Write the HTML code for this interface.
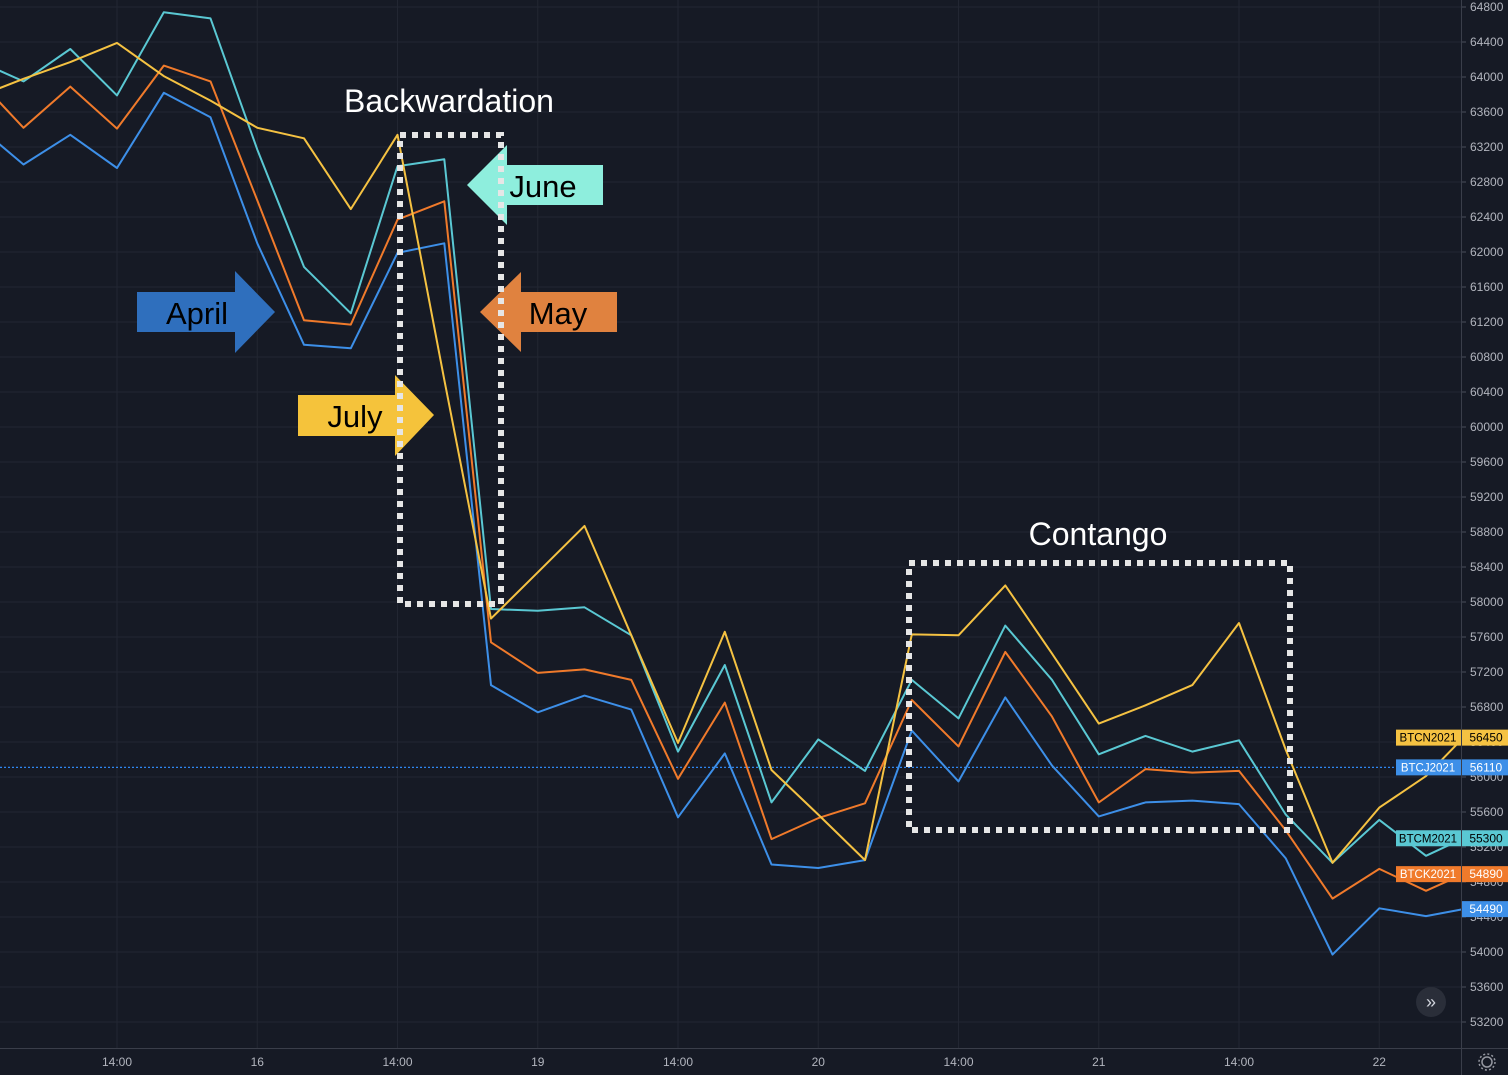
<!DOCTYPE html>
<html><head><meta charset="utf-8"><style>
html,body{margin:0;padding:0;background:#161a25;}
svg{display:block;font-family:"Liberation Sans",sans-serif;}
</style></head><body>
<svg id="chart" width="1508" height="1075" viewBox="0 0 1508 1075" xmlns="http://www.w3.org/2000/svg">
<rect x="0" y="0" width="1508" height="1075" fill="#161a25"/>
<g id="grid"></g>
<g id="series"></g>
<g id="annot">
  <g>
    <polygon points="603,165 507,165 507,145 467,185 507,225 507,205 603,205" fill="#8eeedd"/>
    <text x="543" y="197" font-size="31" fill="#000" text-anchor="middle">June</text>
  </g>
  <g>
    <polygon points="137,292 235,292 235,271 275,312 235,353 235,332 137,332" fill="#2f6fbd"/>
    <text x="197" y="324" font-size="31" fill="#000" text-anchor="middle">April</text>
  </g>
  <g>
    <polygon points="617,292 521,292 521,272 480,312 521,352 521,332 617,332" fill="#e0823f"/>
    <text x="558" y="324" font-size="31" fill="#000" text-anchor="middle">May</text>
  </g>
  <g>
    <polygon points="298,395 395,395 395,375 434,415 395,456 395,436 298,436" fill="#f5c33b"/>
    <text x="355" y="427" font-size="31" fill="#000" text-anchor="middle">July</text>
  </g>
  <rect x="400" y="135" width="101" height="469" fill="none" stroke="#e6e6e6" stroke-width="6" stroke-dasharray="6,6"/>
  <rect x="909" y="563" width="381" height="267" fill="none" stroke="#e6e6e6" stroke-width="6" stroke-dasharray="6,6"/>
  <text x="449" y="112" font-size="32" fill="#fff" text-anchor="middle">Backwardation</text>
  <text x="1098" y="545" font-size="32" fill="#fff" text-anchor="middle">Contango</text>
</g>
<g id="axes"></g>
<g id="tags"></g>
<g>
  <circle cx="1431" cy="1002" r="15" fill="#2a2e39"/>
  <text x="1431" y="1008" font-size="18" fill="#d1d4dc" text-anchor="middle">»</text>
</g>
<g>
  <circle cx="1487" cy="1062" r="5" fill="none" stroke="#9598a1" stroke-width="1.5"/>
  <circle cx="1487" cy="1062" r="8" fill="none" stroke="#9598a1" stroke-width="1.5" stroke-dasharray="2,2.2"/>
</g>
</svg>
<script>
const idx = [-1,0,1,2,3,4,5,6,7,8,9,10,11,12,13,14,15,16,17,18,19,20,21,22,23,24,25,26,27,28,29,30,30.8];
const april = [63450,63000,63340,62960,63820,63540,62100,60940,60900,61990,62100,57050,56740,56930,56770,55540,56270,55000,54960,55050,56530,55950,56910,56130,55550,55710,55730,55690,55070,53970,54500,54410,54490];
const may = [63990,63420,63890,63410,64130,63950,62590,61220,61170,62370,62580,57540,57190,57230,57110,55980,56850,55290,55530,55700,56880,56350,57430,56690,55710,56090,56050,56070,55390,54610,54950,54700,54890];
const june = [64190,63950,64320,63790,64740,64670,63170,61830,61300,62980,63060,57920,57900,57940,57620,56290,57280,55710,56430,56070,57110,56670,57730,57110,56260,56470,56290,56420,55570,55020,55510,55100,55300];
const july = [63770,63980,64170,64390,64010,63730,63420,63300,62490,63340,60540,57810,58340,58870,57620,56390,57660,56080,55570,55050,57630,57620,58190,57410,56610,56820,57050,57760,56310,55020,55650,56010,56450];
const yTicks = [64800,64400,64000,63600,63200,62800,62400,62000,61600,61200,60800,60400,60000,59600,59200,58800,58400,58000,57600,57200,56800,56400,56000,55600,55200,54800,54400,54000,53600,53200];
const xTickIdx = [2,5,8,11,14,17,20,23,26,29];
const xTickLabels = ['14:00','16','14:00','19','14:00','20','14:00','21','14:00','22'];
const tagNames = ['BTCN2021','BTCJ2021','BTCM2021','BTCK2021'];
const tagValues = [56450,56110,55300,54890];
const lastApril = 54490;

const NS='http://www.w3.org/2000/svg';
function X(i){return 23.5+46.75*i;}
function Y(v){return 7+(64800-v)*35/400;}
function mk(tag,attrs,parent){const e=document.createElementNS(NS,tag);for(const k in attrs)e.setAttribute(k,attrs[k]);parent.appendChild(e);return e;}
const grid=document.getElementById('grid'),series=document.getElementById('series'),axes=document.getElementById('axes'),tags=document.getElementById('tags');

yTicks.forEach(v=>{
  const l=mk('line',{x1:0,x2:1461,y1:Y(v),y2:Y(v),stroke:'#222632','stroke-width':1},grid);
  
  
  const t=mk('line',{x1:1461,x2:1466,y1:Y(v),y2:Y(v),stroke:'#4a4e5a'},axes);
  
  
  const tx=mk('text',{x:1470,y:Y(v)+4,'font-size':12,fill:'#b2b5be'},axes);
  tx.textContent=v;
  
  
});
xTickIdx.forEach((i,k)=>{
  const l=mk('line',{x1:X(i),x2:X(i),y1:0,y2:1048,stroke:'#222632','stroke-width':1},grid);
  
  
  const tx=mk('text',{x:X(i),y:1066,'font-size':12,fill:'#b2b5be','text-anchor':'middle'},axes);
  tx.textContent=xTickLabels[k];
  
  
});
const ax1=mk('line',{x1:1461.5,x2:1461.5,y1:0,y2:1075,stroke:'#3a3e4a'},axes);


const ax2=mk('line',{x1:0,x2:1508,y1:1048.5,y2:1048.5,stroke:'#3a3e4a'},axes);



const pl=mk('line',{x1:0,x2:1461,y1:Y(56110),y2:Y(56110),stroke:'#2f86f0','stroke-width':1.2,'stroke-dasharray':'2,2'},series);



const sets=[['april-line',april,'#3d8fe8'],['may-line',may,'#f07a2b'],['june-line',june,'#5ac8d3'],['july-line',july,'#f5c242']];
sets.forEach(([name,vals,col])=>{
  const p=mk('polyline',{points:vals.map((v,k)=>X(idx[k]).toFixed(1)+','+Y(v).toFixed(1)).join(' '),fill:'none',stroke:col,'stroke-width':2,'stroke-linejoin':'round'},series);
  
  
});

const tagCols=[['#f5c242','#000'],['#3d8fe8','#fff'],['#5ac8d3','#000'],['#f07a2b','#fff']];
tagValues.forEach((v,k)=>{
  const y=Y(v);
  const g=mk('g',{},tags);
  
  
  mk('rect',{x:1396,y:y-8,width:65,height:16,fill:tagCols[k][0]},g);
  mk('rect',{x:1462,y:y-8,width:46,height:16,fill:tagCols[k][0]},g);
  const a=mk('text',{x:1428,y:y+4,'font-size':11.5,fill:tagCols[k][1],'text-anchor':'middle'},g);a.textContent=tagNames[k];
  const b=mk('text',{x:1486,y:y+4,'font-size':12,fill:tagCols[k][1],'text-anchor':'middle'},g);b.textContent=v;
});
const g=mk('g',{},tags);


mk('rect',{x:1462,y:Y(lastApril)-8,width:46,height:16,fill:'#3d8fe8'},g);
const lt=mk('text',{x:1486,y:Y(lastApril)+4,'font-size':12,fill:'#fff','text-anchor':'middle'},g);lt.textContent=lastApril;
</script>
</body></html>
